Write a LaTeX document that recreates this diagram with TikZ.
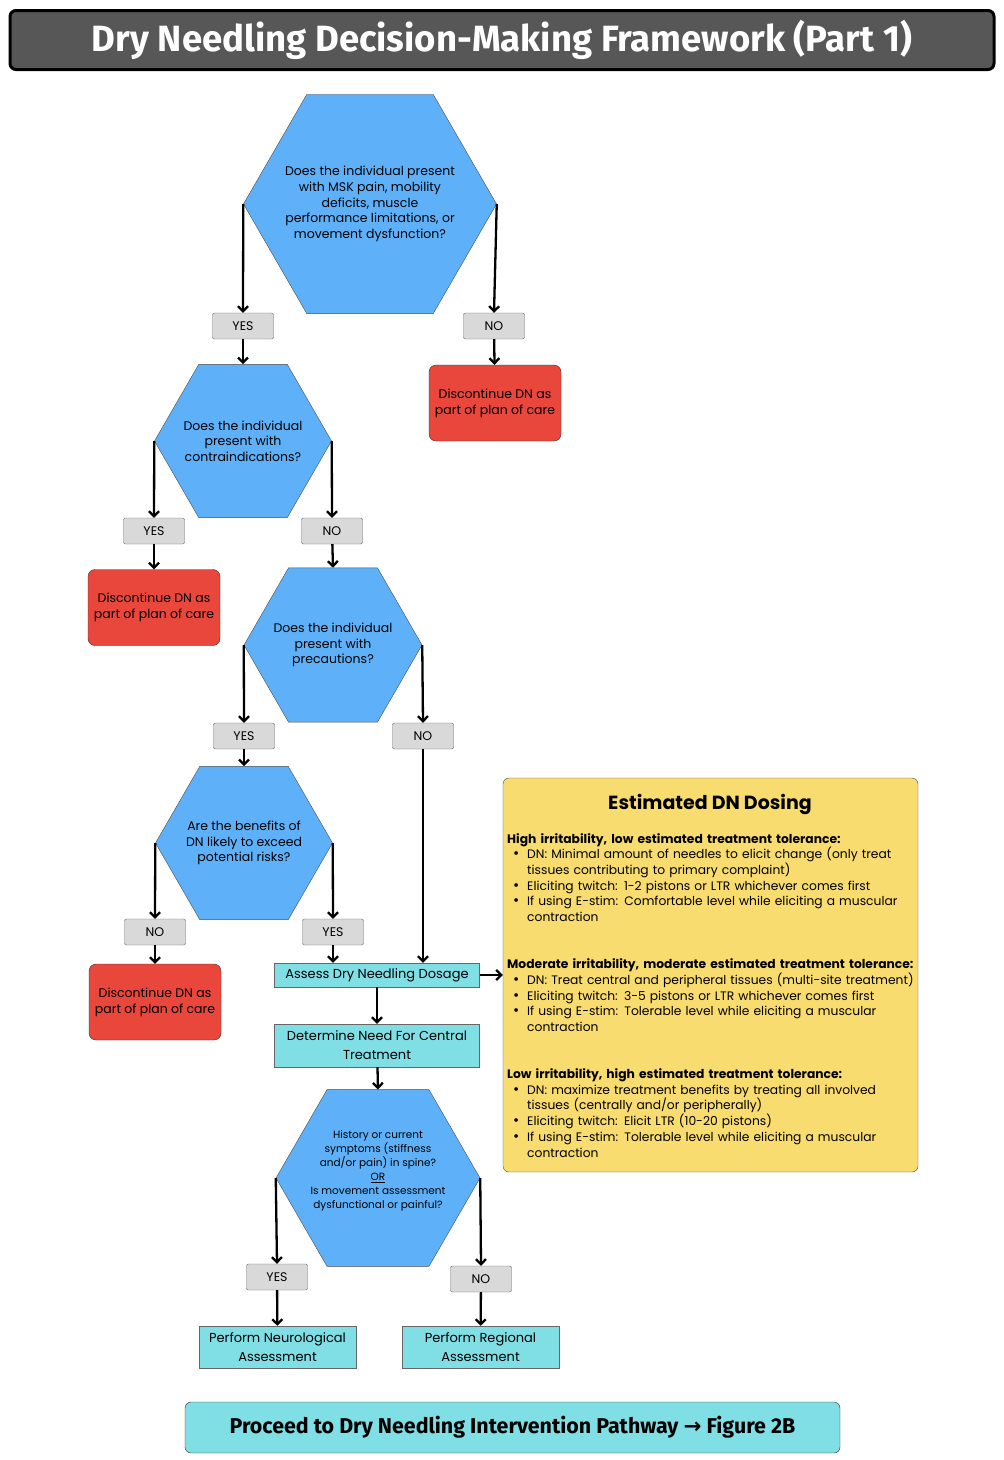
\documentclass[tikz,border=0pt]{standalone}
\usepackage{fontspec}
\usepackage{graphicx}
\setmainfont{Poppins}
\newfontfamily\headfont{Fira Sans}
\newfontfamily\arrowfont{DejaVu Sans}
\usetikzlibrary{shapes.geometric,arrows.meta}
\definecolor{hexblue}{RGB}{94,177,249}
\definecolor{stopred}{RGB}{233,70,60}
\definecolor{answergray}{RGB}{217,217,217}
\definecolor{stepteal}{RGB}{128,222,229}
\definecolor{dosingyellow}{RGB}{249,220,111}
\definecolor{titlegray}{RGB}{87,87,87}
\newcommand{\dnitem}[1]{\par\hangindent=20pt\hangafter=1\hspace*{6pt}\makebox[14pt][l]{\fontsize{15}{15}\selectfont\textbullet}#1}

\begin{document}
\begin{tikzpicture}[x=1pt,y=-1pt,
  question/.style={regular polygon,regular polygon sides=6,draw=black!70,fill=hexblue,inner sep=0pt},
  qtext/.style={align=center,inner sep=0pt,font=\fontsize{12.5}{15.7}\selectfont},
  answer/.style={rectangle,rounded corners=2pt,draw=black!60,fill=answergray,minimum width=61pt,minimum height=26pt,inner sep=0pt,font=\fontsize{12.5}{15}\selectfont},
  stopbox/.style={rectangle,rounded corners=7pt,draw=black!80,fill=stopred,minimum width=132pt,minimum height=76pt,inner sep=0pt,align=center,font=\fontsize{12.5}{16}\selectfont},
  stepbox/.style={rectangle,draw=black!60,fill=stepteal,minimum width=205pt,inner sep=0pt,align=center,font=\fontsize{13}{19}\selectfont},
  flow/.style={-{Straight Barb[length=5pt,width=10pt]},line width=2.3pt}]

\useasboundingbox (0,0) rectangle (1004,1460);

\node[rectangle,rounded corners=6pt,draw=black,line width=3pt,fill=titlegray,minimum width=984pt,minimum height=59pt,text=white,font=\headfont\bfseries\fontsize{36.5}{36.5}\selectfont] (title) at (502,40) {Dry Needling Decision-Making Framework (Part 1)};

% questions
\node[question,minimum size=253pt,label={[qtext]center:{Does the individual present\\ with MSK pain, mobility\\ deficits, muscle\\ performance limitations, or\\ movement dysfunction?}}] (q1) at (370,204) {};
\node[question,minimum size=177pt,label={[qtext]center:{Does the individual\\ present with\\ contraindications?}}] (q2) at (243,441) {};
\node[question,minimum size=178pt,label={[qtext]center:{Does the individual\\ present with\\ precautions?}}] (q3) at (333,645) {};
\node[question,minimum size=177pt,label={[qtext]center:{Are the benefits of\\ DN likely to exceed\\ potential risks?}}] (q4) at (244,843) {};
\node[question,minimum size=204pt,label={[qtext,font=\fontsize{10.5}{14}\selectfont,yshift=7pt]center:{History or current\\ symptoms (stiffness\\ and/or pain) in spine?\\ \underline{OR}\\ Is movement assessment\\ dysfunctional or painful?}}] (q5) at (378,1178) {};

% answers
\node[answer] (yes1) at (243,326) {YES};
\node[answer] (no1) at (494,326) {NO};
\node[answer] (yes2) at (154,531) {YES};
\node[answer] (no2) at (332,531) {NO};
\node[answer] (yes3) at (244,736) {YES};
\node[answer] (no3) at (423,736) {NO};
\node[answer] (no4) at (155,932) {NO};
\node[answer] (yes4) at (333,932) {YES};
\node[answer] (yes5) at (277,1277) {YES};
\node[answer] (no5) at (481,1279) {NO};

% outcomes
\node[stopbox] (stop1) at (495,403) {Discontinue DN as\\ part of plan of care};
\node[stopbox] (stop2) at (154,607.5) {Discontinue DN as\\ part of plan of care};
\node[stopbox] (stop3) at (155,1002) {Discontinue DN as\\ part of plan of care};

\node[stepbox,minimum height=24pt] (assess) at (377,975) {Assess Dry Needling Dosage};
\node[stepbox,minimum height=43pt] (central) at (377,1045.5) {Determine Need For Central\\ Treatment};
\node[stepbox,minimum width=157pt,minimum height=42pt] (neuro) at (277.5,1347) {Perform Neurological\\ Assessment};
\node[stepbox,minimum width=157pt,minimum height=42pt] (regional) at (480.5,1347) {Perform Regional\\ Assessment};
\node[stepbox,rounded corners=6pt,draw=black!80,minimum width=655pt,minimum height=51pt,font=\headfont\bfseries\fontsize{21.4}{21.4}\selectfont] (proceed) at (512.5,1427.5) {Proceed to Dry Needling Intervention Pathway {\arrowfont\bfseries →} Figure 2B};

% dosing box
\node[rectangle,rounded corners=6pt,draw=black!70,fill=dosingyellow,minimum width=415pt,minimum height=394pt] (dosing) at (710.5,975) {};
\node[font=\bfseries\fontsize{19}{19}\selectfont] (dosingtitle) at (710,804) {Estimated DN Dosing};
\node[anchor=north west,inner sep=0pt,text width=420pt,font=\fontsize{12.3}{15.7}\selectfont] (dosingtext) at (507,833) {\raggedright
\textbf{High irritability, low estimated treatment tolerance:}
\dnitem{DN: Minimal amount of needles to elicit change (only treat\newline tissues contributing to primary complaint)}
\dnitem{Eliciting twitch: 1-2 pistons or LTR whichever comes first}
\dnitem{If using E-stim: Comfortable level while eliciting a muscular\newline contraction}
\par\vspace{31.4pt}
\textbf{Moderate irritability, moderate estimated treatment tolerance:}
\dnitem{DN: Treat central and peripheral tissues (multi-site treatment)}
\dnitem{Eliciting twitch: 3-5 pistons or LTR whichever comes first}
\dnitem{If using E-stim: Tolerable level while eliciting a muscular\newline contraction}
\par\vspace{31.4pt}
\textbf{Low irritability, high estimated treatment tolerance:}
\dnitem{DN: maximize treatment benefits by treating all involved\newline tissues (centrally and/or peripherally)}
\dnitem{Eliciting twitch: Elicit LTR (10-20 pistons)}
\dnitem{If using E-stim: Tolerable level while eliciting a muscular\newline contraction}\par};

% connectors
\draw[flow] (q1.west) -- (yes1.north);
\draw[flow] (q1.east) -- (no1.north);
\draw[flow] (yes1) -- (q2.north);
\draw[flow] (no1) -- (stop1);
\draw[flow] (q2.west) -- (yes2.north);
\draw[flow] (q2.east) -- (no2.north);
\draw[flow] (yes2) -- (stop2);
\draw[flow] (no2) -- (q3.north);
\draw[flow] (q3.west) -- (yes3.north);
\draw[flow] (q3.east) -- (no3.north);
\draw[flow] (yes3) -- (q4.north);
\draw[flow] (q4.west) -- (no4.north);
\draw[flow] (q4.east) -- (yes4.north);
\draw[flow] (no4) -- (stop3);
\draw[flow] (yes4.south) -- (yes4.south |- assess.north);
\draw[flow] (no3.south) -- (no3.south |- assess.north);
\draw[flow] (assess.east) -- (dosing.west);
\draw[flow] (assess) -- (central);
\draw[flow] (central) -- (q5.north);
\draw[flow] (q5.west) -- (yes5.north);
\draw[flow] (q5.east) -- (no5.north);
\draw[flow] (yes5) -- (neuro);
\draw[flow] (no5) -- (regional);

\end{tikzpicture}
\end{document}
